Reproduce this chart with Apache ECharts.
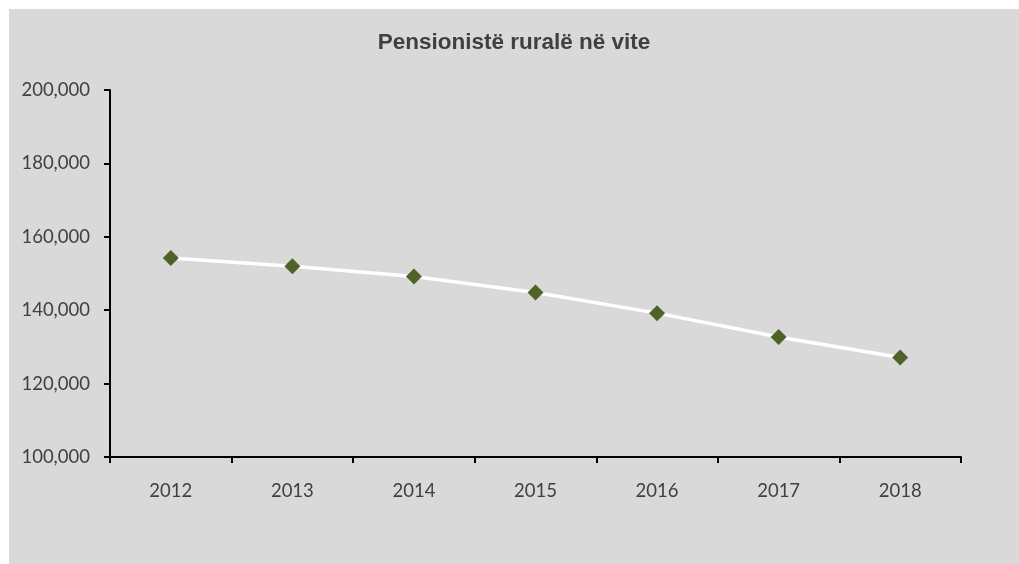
<!DOCTYPE html>
<html style="height: 100%">
<head>
    <meta charset="utf-8">
</head>
<body style="height: 100%; margin: 0; background: #ffffff">
<div id="container" style="position: absolute; left: 9px; top: 9px; width: 1010px; height: 555px; background: #d9d9d9"></div>
<script src="https://cdn.jsdelivr.net/npm/echarts@6/dist/echarts.min.js"></script>
<script type="text/javascript">
    // data
    var years = ['2012', '2013', '2014', '2015', '2016', '2017', '2018'];
    var pensioners = [154200, 152000, 149200, 144800, 139200, 132700, 127100];
    var yTicks = {min: 100000, max: 200000, step: 20000};

    var dom = document.getElementById("container");
    var myChart = echarts.init(dom);

    var labelFont = {color: '#404040', fontSize: 18.5, fontFamily: 'Lato, "Open Sans", sans-serif'};

    var option = {
        backgroundColor: '#d9d9d9',
        animation: false,
        title: {
            text: 'Pensionistë ruralë në vite',
            left: 'center',
            top: 17,
            textStyle: {
                color: '#404040',
                fontSize: 22.5,
                fontWeight: 'bold',
                fontFamily: '"Liberation Sans", Arial, sans-serif'
            }
        },
        grid: {
            left: 101,
            right: 58,
            top: 81,
            bottom: 107,
            containLabel: false
        },
        xAxis: {
            type: 'category',
            data: years,
            boundaryGap: true,
            axisLine: {lineStyle: {color: '#000', width: 2}},
            axisTick: {show: true, alignWithLabel: false, length: 6, lineStyle: {color: '#000', width: 2}},
            axisLabel: Object.assign({margin: 25}, labelFont),
            splitLine: {show: false}
        },
        yAxis: {
            type: 'value',
            min: yTicks.min,
            max: yTicks.max,
            interval: yTicks.step,
            axisLine: {show: true, lineStyle: {color: '#000', width: 2}},
            axisTick: {show: true, length: 6, lineStyle: {color: '#000', width: 2}},
            axisLabel: Object.assign({
                margin: 20,
                formatter: function (v) { return v.toLocaleString('en-US'); }
            }, labelFont),
            splitLine: {show: false}
        },
        series: [
            {
                type: 'line',
                data: pensioners,
                symbol: 'diamond',
                symbolSize: 16,
                lineStyle: {color: '#ffffff', width: 3.5},
                itemStyle: {color: '#4f6228'},
                z: 3
            }
        ]
    };
    myChart.setOption(option, true);
</script>
</body>
</html>
